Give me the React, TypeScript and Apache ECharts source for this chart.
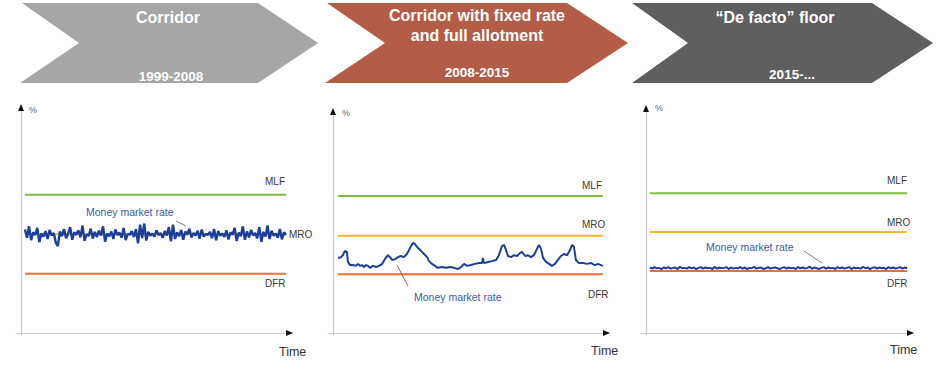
import React, { useEffect, useRef } from "react";
import * as echarts from "echarts";

const FONT = '"Liberation Sans", Arial, Helvetica, sans-serif';

// ---------- data ----------
const rateNames = ["MLF", "MRO", "DFR"];
const p1Rates = [3.5, 2.5, 1.5];
const p2Rates = [3.47, 2.46, 1.49];
const p3Rates = [3.54, 2.56, 1.57];
const lineSpan = [
  [1.5, 97.8],
  [1.8, 97.8],
  [1.5, 97.8],
];

const p1Money = [
  2.62, 2.41, 2.70, 2.35, 2.55, 2.48, 2.66, 2.30, 2.52, 2.44, 2.58, 2.38, 2.61, 2.47, 2.53, 2.29,
  2.20, 2.57, 2.45, 2.63, 2.40, 2.51, 2.68, 2.36, 2.55, 2.49, 2.60, 2.42, 2.72, 2.33, 2.50, 2.46,
  2.64, 2.39, 2.56, 2.43, 2.59, 2.47, 2.70, 2.31, 2.52, 2.45, 2.57, 2.38, 2.62, 2.48, 2.54, 2.41,
  2.66, 2.35, 2.51, 2.49, 2.58, 2.43, 2.63, 2.27, 2.74, 2.40, 2.77, 2.34, 2.56, 2.46, 2.52, 2.44,
  2.60, 2.48, 2.53, 2.41, 2.58, 2.47, 2.68, 2.32, 2.74, 2.38, 2.55, 2.45, 2.61, 2.36, 2.57, 2.49,
  2.64, 2.42, 2.53, 2.47, 2.59, 2.39, 2.62, 2.44, 2.51, 2.48, 2.56, 2.40, 2.63, 2.35, 2.58, 2.46,
  2.52, 2.43, 2.60, 2.37, 2.55, 2.49, 2.66, 2.33, 2.54, 2.45, 2.70, 2.36, 2.57, 2.42, 2.61, 2.47,
  2.53, 2.40, 2.68, 2.31, 2.56, 2.44, 2.72, 2.38, 2.59, 2.46, 2.52, 2.41, 2.63, 2.37, 2.55, 2.48,
];

const p2Money: [number, number][] = [
  [1.8, 1.9], [2.9, 1.92], [3.6, 1.97], [4.3, 2.08], [5.1, 2.05], [5.4, 1.8], [6.2, 1.72], [7.2, 1.72],
  [8.3, 1.7], [9.1, 1.75], [9.8, 1.7], [10.5, 1.72], [11.2, 1.67], [12.0, 1.72], [12.7, 1.7], [13.4, 1.65],
  [14.5, 1.7], [15.6, 1.67], [16.7, 1.7], [17.8, 1.75], [18.8, 1.87], [19.9, 1.97], [20.7, 1.92], [21.4, 1.85],
  [22.5, 1.87], [23.6, 1.92], [24.6, 1.95], [25.7, 1.92], [26.8, 2.0], [27.9, 2.15], [29.0, 2.28], [29.7, 2.25],
  [30.8, 2.15], [31.9, 2.08], [33.0, 2.0], [34.1, 1.92], [34.8, 1.82], [35.9, 1.75], [37.0, 1.7], [38.0, 1.65],
  [39.5, 1.67], [41.0, 1.65], [42.4, 1.67], [43.8, 1.65], [45.3, 1.62], [46.4, 1.67], [47.5, 1.75], [48.6, 1.7],
  [50.0, 1.72], [51.4, 1.75], [52.9, 1.77], [54.0, 1.77], [54.3, 1.9], [54.7, 1.77], [56.2, 1.8], [57.6, 1.82],
  [59.1, 1.85], [60.1, 1.97], [61.2, 2.2], [62.0, 2.23], [62.7, 2.1], [63.4, 1.95], [64.5, 1.92], [65.6, 1.97],
  [66.7, 1.95], [67.8, 2.03], [68.5, 2.05], [69.6, 1.95], [70.7, 1.97], [71.7, 1.92], [72.8, 1.97], [73.9, 2.13],
  [74.6, 2.23], [75.4, 2.13], [76.1, 1.9], [77.2, 1.8], [78.3, 1.75], [79.3, 1.7], [80.4, 1.75], [81.5, 1.85],
  [82.6, 1.95], [83.7, 2.0], [84.8, 1.97], [85.9, 2.1], [86.6, 2.23], [87.3, 2.18], [88.0, 1.85], [89.1, 1.77],
  [90.6, 1.77], [92.0, 1.75], [93.5, 1.77], [94.9, 1.72], [96.0, 1.75], [97.1, 1.72], [97.8, 1.7],
];

const p3Money = [
  1.66, 1.63, 1.67, 1.64, 1.65, 1.62, 1.66, 1.64, 1.67, 1.63, 1.65, 1.66, 1.62, 1.68, 1.64, 1.65,
  1.63, 1.67, 1.64, 1.66, 1.62, 1.65, 1.67, 1.63, 1.66, 1.64, 1.65, 1.62, 1.68, 1.63, 1.66, 1.64,
  1.65, 1.67, 1.62, 1.66, 1.63, 1.65, 1.64, 1.67, 1.63, 1.66, 1.62, 1.65, 1.64, 1.68, 1.63, 1.65,
  1.66, 1.62, 1.64, 1.67, 1.63, 1.65, 1.66, 1.64, 1.62, 1.65, 1.67, 1.63, 1.66, 1.64, 1.65, 1.62,
  1.67, 1.64, 1.66, 1.63, 1.65, 1.68, 1.63, 1.66, 1.64, 1.62, 1.65, 1.67, 1.63, 1.66, 1.64, 1.65,
  1.62, 1.67, 1.64, 1.66, 1.63, 1.65, 1.67, 1.62, 1.66, 1.64, 1.65, 1.63, 1.68, 1.64, 1.66, 1.62,
  1.65, 1.67, 1.63, 1.66, 1.64, 1.65, 1.62, 1.67, 1.64, 1.66, 1.63, 1.65, 1.67, 1.63, 1.66, 1.64,
];

const phaseTitles = [["Corridor"], ["Corridor with fixed rate", "and full allotment"], ["\u201cDe facto\u201d floor"]];
const phaseYears = ["1999-2008", "2008-2015", "2015-..."];
const moneyLabel = "Money market rate";
const yName = "%";
const xName = "Time";

// ---------- layout / style ----------
const COLORS = { MLF: "#7cc043", MRO: "#fcb72f", DFR: "#f36b3a", money: "#1c3f9a" };
const chevronColors = ["#a6a6a6", "#b35d47", "#5f5f5f"];
const moneyWidths = [2.4, 2, 2];

const panels = [
  { left: 16, width: 276, top: 107, yMax: 5.72, yAxisX: 21, tipX: 292,
    labels: { MLF: [265, 181], MRO: [289, 234], DFR: [265, 283] }, pct: [29, 110], time: [279, 352],
    money: [86, 212], leader: [176, 221, 186, 226], leaderColor: "#7f7f7f" },
  { left: 328, width: 281, top: 111, yMax: 5.62, yAxisX: 333, tipX: 609,
    labels: { MLF: [582, 185], MRO: [582, 224], DFR: [588, 294] }, pct: [342, 113], time: [591, 351],
    money: [414, 297], leader: [397, 265, 408, 286], leaderColor: "#a0624d" },
  { left: 641, width: 272, top: 108, yMax: 5.7, yAxisX: 646, tipX: 913,
    labels: { MLF: [887, 180], MRO: [887, 222], DFR: [887, 283] }, pct: [655, 108], time: [890, 350],
    money: [706, 247], leader: [804, 251, 822, 263], leaderColor: "#7f7f7f" },
];

const chevrons = [
  { pts: [[22, 3], [258, 3], [318, 43], [258, 83], [20, 83], [79, 43]], cx: 168, titleY: [17], yearX: 171, yearY: 76 },
  { pts: [[327, 3], [567, 3], [628, 43], [567, 83], [325, 83], [385, 43]], cx: 477, titleY: [15, 35], yearX: 477, yearY: 72 },
  { pts: [[632, 3], [872, 3], [933, 43], [872, 83], [632, 83], [688, 43]], cx: 775, titleY: [17], yearX: 792, yearY: 74 },
];

export default function App() {
  const ref = useRef<HTMLDivElement>(null);
  useEffect(() => {
    document.body.style.margin = "0";
    const chart = echarts.init(ref.current!, undefined, { renderer: "svg" });
    const rates = [p1Rates, p2Rates, p3Rates];
    const grid: any[] = [];
    const xAxis: any[] = [];
    const yAxis: any[] = [];
    const series: any[] = [];
    const graphic: any[] = [];
    const axisLine = { show: true, onZero: true, lineStyle: { color: "#c8c8c8", width: 1.2 } };

    panels.forEach((p, i) => {
      grid.push({ left: p.left, width: p.width, top: p.top, bottom: 38 });
      xAxis.push({ type: "value", gridIndex: i, min: -1.8, max: 100, axisLine, axisTick: { show: false },
        axisLabel: { show: false }, splitLine: { show: false } });
      yAxis.push({ type: "value", gridIndex: i, min: -0.05, max: p.yMax, axisLine, axisTick: { show: false },
        axisLabel: { show: false }, splitLine: { show: false } });
      const [s, e] = lineSpan[i];
      rateNames.forEach((n, k) => {
        series.push({ type: "line", name: n, xAxisIndex: i, yAxisIndex: i, symbol: "none", silent: true,
          lineStyle: { color: (COLORS as any)[n], width: 2 }, z: 2,
          data: [[s, rates[i][k]], [e, rates[i][k]]] });
      });
      let md: [number, number][];
      if (i === 0) md = p1Money.map((v, j) => [s + (j * (e - s)) / (p1Money.length - 1), v]);
      else if (i === 1) md = p2Money;
      else md = p3Money.map((v, j) => [s + (j * (e - s)) / (p3Money.length - 1), v]);
      series.push({ type: "line", name: moneyLabel, xAxisIndex: i, yAxisIndex: i, symbol: "none", silent: true,
        lineStyle: { color: COLORS.money, width: moneyWidths[i] }, z: 3, data: md });

      // arrowheads
      const bx = p.yAxisX, by = 333;
      graphic.push({ type: "polygon", shape: { points: [[bx, p.top - 3], [bx - 3, p.top + 4], [bx + 3, p.top + 4]] },
        style: { fill: "#111" }, z: 10 });
      graphic.push({ type: "polygon", shape: { points: [[p.tipX + 1, by], [p.tipX - 6, by - 3], [p.tipX - 6, by + 3]] },
        style: { fill: "#111" }, z: 10 });
      const txt = (t: string, x: number, y: number, size: number, fill: string, extra: any = {}) =>
        graphic.push({ type: "text", x, y, z: 10, style: { text: t, fill, fontFamily: FONT, fontSize: size,
          textVerticalAlign: "middle", textAlign: "left", ...extra } });
      txt(yName, p.pct[0], p.pct[1], 9, "#666");
      txt(xName, p.time[0], p.time[1], 12.5, "#333");
      rateNames.forEach((n) => {
        const pos = (p.labels as any)[n];
        txt(n, pos[0], pos[1], 10, "#3a3a3a");
      });
      txt(moneyLabel, p.money[0], p.money[1], 10.5, "#3c5ba3");
      const L = p.leader;
      graphic.push({ type: "line", z: 10, shape: { x1: L[0], y1: L[1], x2: L[2], y2: L[3] },
        style: { stroke: p.leaderColor, lineWidth: 1 } });
    });

    chevrons.forEach((c, i) => {
      graphic.push({ type: "polygon", shape: { points: c.pts }, style: { fill: chevronColors[i] }, z: 1 });
      phaseTitles[i].forEach((t, k) => {
        graphic.push({ type: "text", x: c.cx, y: c.titleY[k], z: 11, style: { text: t, fill: "#fff",
          fontFamily: FONT, fontSize: 16, fontWeight: "bold", textAlign: "center", textVerticalAlign: "middle" } });
      });
      graphic.push({ type: "text", x: c.yearX, y: c.yearY, z: 11, style: { text: phaseYears[i], fill: "#fff",
        fontFamily: FONT, fontSize: 13.5, fontWeight: "bold", textAlign: "center", textVerticalAlign: "middle" } });
    });

    chart.setOption({ animation: false, backgroundColor: "#fff", grid, xAxis, yAxis, series, graphic });
    return () => chart.dispose();
  }, []);
  return <div ref={ref} style={{ width: 936, height: 373 }} />;
}
